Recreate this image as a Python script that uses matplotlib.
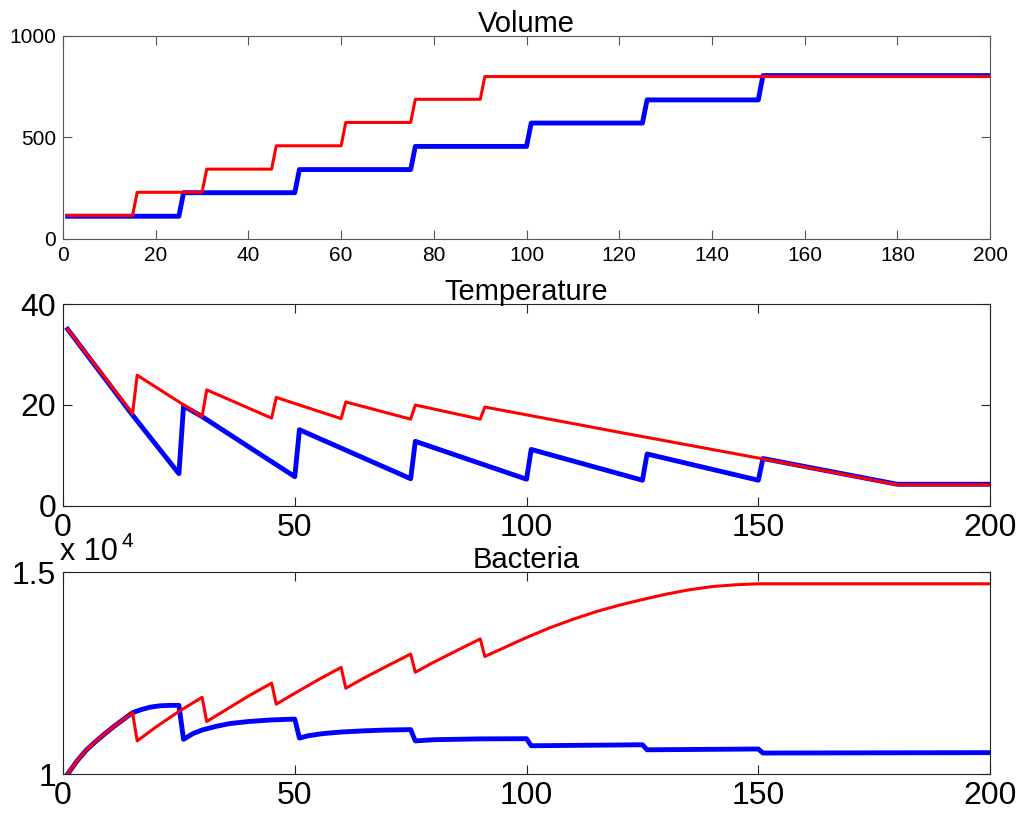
import numpy as np
import matplotlib
matplotlib.use('Agg')
import matplotlib.pyplot as plt

plt.rcParams['font.family'] = ['Liberation Sans', 'DejaVu Sans']

# volume (vertices of the step lines)
vol_red_t = [1, 15, 16, 30, 31, 45, 46, 60, 61, 75, 76, 90, 91, 200]
vol_red = [116, 116, 230, 230, 344, 344, 459, 459, 574, 574, 688, 688, 800, 800]
vol_blue_t = [1, 25, 26, 50, 51, 75, 76, 100, 101, 125, 126, 150, 151, 200]
vol_blue = [112, 112, 228, 228, 342, 342, 456, 456, 571, 571, 685, 685, 805, 805]

# temperature
temp_red_t = [1, 15, 16, 30, 31, 45, 46, 60, 61, 75, 76, 90, 91, 120, 150, 180, 200]
temp_red = [35, 18.3, 25.9, 17.7, 23.0, 17.4, 21.5, 17.3, 20.6, 17.2, 20.0,
            17.2, 19.6, 14.6, 9.5, 4.2, 4.2]
temp_blue_t = [1, 15, 25, 26, 30, 50, 51, 75, 76, 100, 101, 125, 126, 150, 151, 180, 200]
temp_blue = [35, 18.0, 6.4, 19.8, 17.7, 5.8, 15.1, 5.4, 12.8, 5.3, 11.2,
             5.1, 10.3, 5.1, 9.4, 4.3, 4.3]

# bacteria
bact_red_t = [1, 3, 5, 7, 9, 11, 13, 15,
              16, 20, 25, 30,
              31, 35, 40, 45,
              46, 50, 55, 60,
              61, 65, 70, 75,
              76, 80, 85, 90,
              91, 95, 100, 105, 110, 115, 120, 125, 130, 135, 140, 145, 150, 200]
bact_red = [10000, 10320, 10590, 10800, 10995, 11180, 11350, 11520,
            10820, 11160, 11550, 11900,
            11300, 11580, 11930, 12250,
            11730, 12000, 12330, 12640,
            12125, 12380, 12680, 12970,
            12520, 12770, 13060, 13345,
            12910, 13120, 13380, 13620, 13830, 14020, 14180, 14320, 14450,
            14560, 14640, 14685, 14710, 14710]
bact_blue_t = [1, 3, 5, 7, 9, 11, 13, 15, 17, 19, 21, 23, 25,
               26, 28, 30, 33, 36, 40, 45, 50,
               51, 53, 56, 60, 65, 70, 75,
               76, 80, 90, 100,
               101, 125, 126, 150, 151, 200]
bact_blue = [10000, 10320, 10590, 10800, 10995, 11180, 11350, 11520, 11600,
             11660, 11690, 11700, 11700,
             10860, 11000, 11090, 11180, 11250, 11300, 11340, 11360,
             10890, 10950, 11000, 11040, 11070, 11090, 11100,
             10820, 10850, 10870, 10875,
             10700, 10725, 10600, 10620, 10520, 10530]
bact_scale = 1e4

fig = plt.figure(figsize=(10.35, 8.19), dpi=100)

def setup(ax, edge):
    for s in ax.spines.values():
        s.set_color(edge)
        s.set_linewidth(0.8)
    ax.tick_params(direction='in', top=True, right=True, length=6.5,
                   width=0.8, color=edge, labelcolor='black')
    ax.set_xlim(0, 200)

# Volume
ax1 = fig.add_axes([0.0609, 0.7082, 0.8957, 0.2479])
setup(ax1, '#555555')
ax1.plot(vol_blue_t, vol_blue, color='#0000ff', lw=3.5)
ax1.plot(vol_red_t, vol_red, color='#ff0000', lw=2.2)
ax1.set_ylim(0, 1000)
ax1.set_xticks(np.arange(0, 201, 20))
ax1.set_yticks([0, 500, 1000])
ax1.tick_params(labelsize=15, pad=5)
ax1.set_title('Volume', fontsize=21, pad=3)

# Temperature
ax2 = fig.add_axes([0.0609, 0.3822, 0.8957, 0.2466])
setup(ax2, '#222222')
ax2.plot(temp_blue_t, temp_blue, color='#0000ff', lw=3.5)
ax2.plot(temp_red_t, temp_red, color='#ff0000', lw=2.2)
ax2.set_ylim(0, 40)
ax2.set_xticks([0, 50, 100, 150, 200])
ax2.set_yticks([0, 20, 40])
ax2.tick_params(labelsize=23, pad=5)
ax2.set_title('Temperature', fontsize=21, pad=3)

# Bacteria
ax3 = fig.add_axes([0.0609, 0.0549, 0.8957, 0.2466])
setup(ax3, '#222222')
ax3.plot(bact_blue_t, np.array(bact_blue) / bact_scale, color='#0000ff', lw=3.5)
ax3.plot(bact_red_t, np.array(bact_red) / bact_scale, color='#ff0000', lw=2.2)
ax3.set_ylim(1, 1.5)
ax3.set_xticks([0, 50, 100, 150, 200])
ax3.set_yticks([1, 1.5])
ax3.set_yticklabels(['1', '1.5'])
ax3.tick_params(labelsize=23, pad=5)
ax3.set_title('Bacteria', fontsize=21, pad=3)
ax3.annotate('x 10', xy=(0, 1), xycoords='axes fraction', xytext=(-2, 9),
             textcoords='offset points', fontsize=22, va='baseline', ha='left')
ax3.annotate('4', xy=(0, 1), xycoords='axes fraction', xytext=(42, 18),
             textcoords='offset points', fontsize=15, va='baseline', ha='left')

fig.savefig('out.png', dpi=100)
